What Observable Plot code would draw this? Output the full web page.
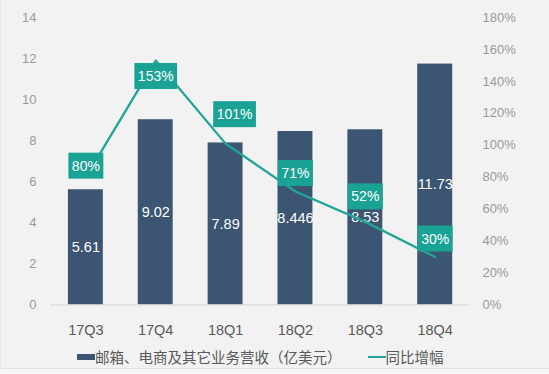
<!DOCTYPE html>
<html><head><meta charset="utf-8">
<script src="https://cdn.jsdelivr.net/npm/d3@7"></script>
<script src="https://cdn.jsdelivr.net/npm/@observablehq/plot@0.6"></script>
<style>
body{margin:0;background:#f7f7f7;}
#wrap{width:549px;height:369px;background:#f2f2f2;border-bottom:1px solid #e2e2e2;border-left:1px solid #e6e6e6;box-sizing:border-box;font-family:"Liberation Sans",Arial,"Noto Sans CJK SC",sans-serif;position:relative;overflow:hidden;}
#chart svg{display:block;}
#legend{position:absolute;left:76px;top:346px;display:flex;align-items:center;font-size:14.5px;color:#595959;font-family:"Liberation Sans",Arial,"Noto Sans CJK SC",sans-serif;white-space:nowrap;}
.sw-bar{width:18px;height:6px;background:#3b5572;display:inline-block;}
.sw-line{width:18px;height:2px;background:#21a597;display:inline-block;margin-left:26px;}
</style></head>
<body>
<div id="wrap"><div id="chart"></div>
<div id="legend"><span class="sw-bar"></span><span>邮箱、电商及其它业务营收（亿美元）</span><span class="sw-line"></span><span>同比增幅</span></div>
</div>
<script>
const quarters = ["17Q3", "17Q4", "18Q1", "18Q2", "18Q3", "18Q4"];
const revenue = [5.61, 9.02, 7.89, 8.446, 8.53, 11.73];
const revenueLabels = ["5.61", "9.02", "7.89", "8.446", "8.53", "11.73"];
const growth = [80, 153, 101, 71, 52, 30];
const growthLabels = ["80%", "153%", "101%", "71%", "52%", "30%"];
const leftTicks = [0, 2, 4, 6, 8, 10, 12, 14];
const rightTicks = [0, 20, 40, 60, 80, 100, 120, 140, 160, 180];

const leftMax = 14, rightMax = 180;
const k = leftMax / rightMax;
const data = quarters.map((q, i) => ({q, v: revenue[i], vl: revenueLabels[i], g: growth[i], gl: growthLabels[i]}));

const barColor = "#3b5572", lineColor = "#21a597", boxColor = "#1aa394";

const labelMark = (filter, opts) => Plot.text(data.filter(filter), {
  x: "q", y: d => d.g * k, text: "gl", fill: "white", fontSize: 14,
  className: "pct-label", ...opts
});

const svg = Plot.plot({
  width: 549, height: 345,
  marginLeft: 49, marginRight: 80, marginTop: 17, marginBottom: 40,
  style: {background: "transparent", fontFamily: "'Liberation Sans', Arial, 'Noto Sans CJK SC', sans-serif", fontSize: "13px"},
  x: {domain: quarters, paddingInner: 0.5, paddingOuter: 0.25, label: null},
  y: {domain: [0, leftMax], label: null},
  marks: [
    Plot.axisY({ticks: leftTicks, tickSize: 0, tickPadding: 14, label: null, fill: "#9a9a9a", fontSize: 13}),
    Plot.axisY({anchor: "right", ticks: rightTicks.map(t => t * k), tickFormat: d => Math.round(d / k) + "%", tickSize: 0, tickPadding: 13, label: null, fill: "#9a9a9a", fontSize: 13}),
    Plot.axisX({tickSize: 0, tickPadding: 20, label: null, fill: "#595959", fontSize: 14.5}),
    Plot.barY(data, {x: "q", y: "v", fill: barColor}),
    Plot.ruleY([0], {stroke: "#d9d9d9"}),
    Plot.text(data, {x: "q", y: d => d.v / 2, text: "vl", fill: "white", fontSize: 14.5}),
    Plot.line(data, {x: "q", y: d => d.g * k, stroke: lineColor, strokeWidth: 2.3}),
    labelMark(d => d.q === "17Q4", {dy: 16}),
    labelMark(d => d.q === "18Q1", {dx: 9, dy: -29}),
    labelMark(d => d.q === "17Q3", {dy: -11}),
    labelMark(d => d.q === "18Q3", {dy: -25}),
    labelMark(d => d.q === "18Q2" || d.q === "18Q4", {dy: -18})
  ]
});
document.getElementById("chart").append(svg);
svg.querySelectorAll("g.pct-label text").forEach(t => {
  const b = t.getBBox();
  const r = document.createElementNS("http://www.w3.org/2000/svg", "rect");
  r.setAttribute("x", b.x - 3.5);
  r.setAttribute("y", b.y - 5);
  r.setAttribute("width", b.width + 7);
  r.setAttribute("height", b.height + 10);
  r.setAttribute("fill", boxColor);
  const tr = t.getAttribute("transform");
  if (tr) r.setAttribute("transform", tr);
  t.parentNode.insertBefore(r, t);
});
</script>
</body></html>
